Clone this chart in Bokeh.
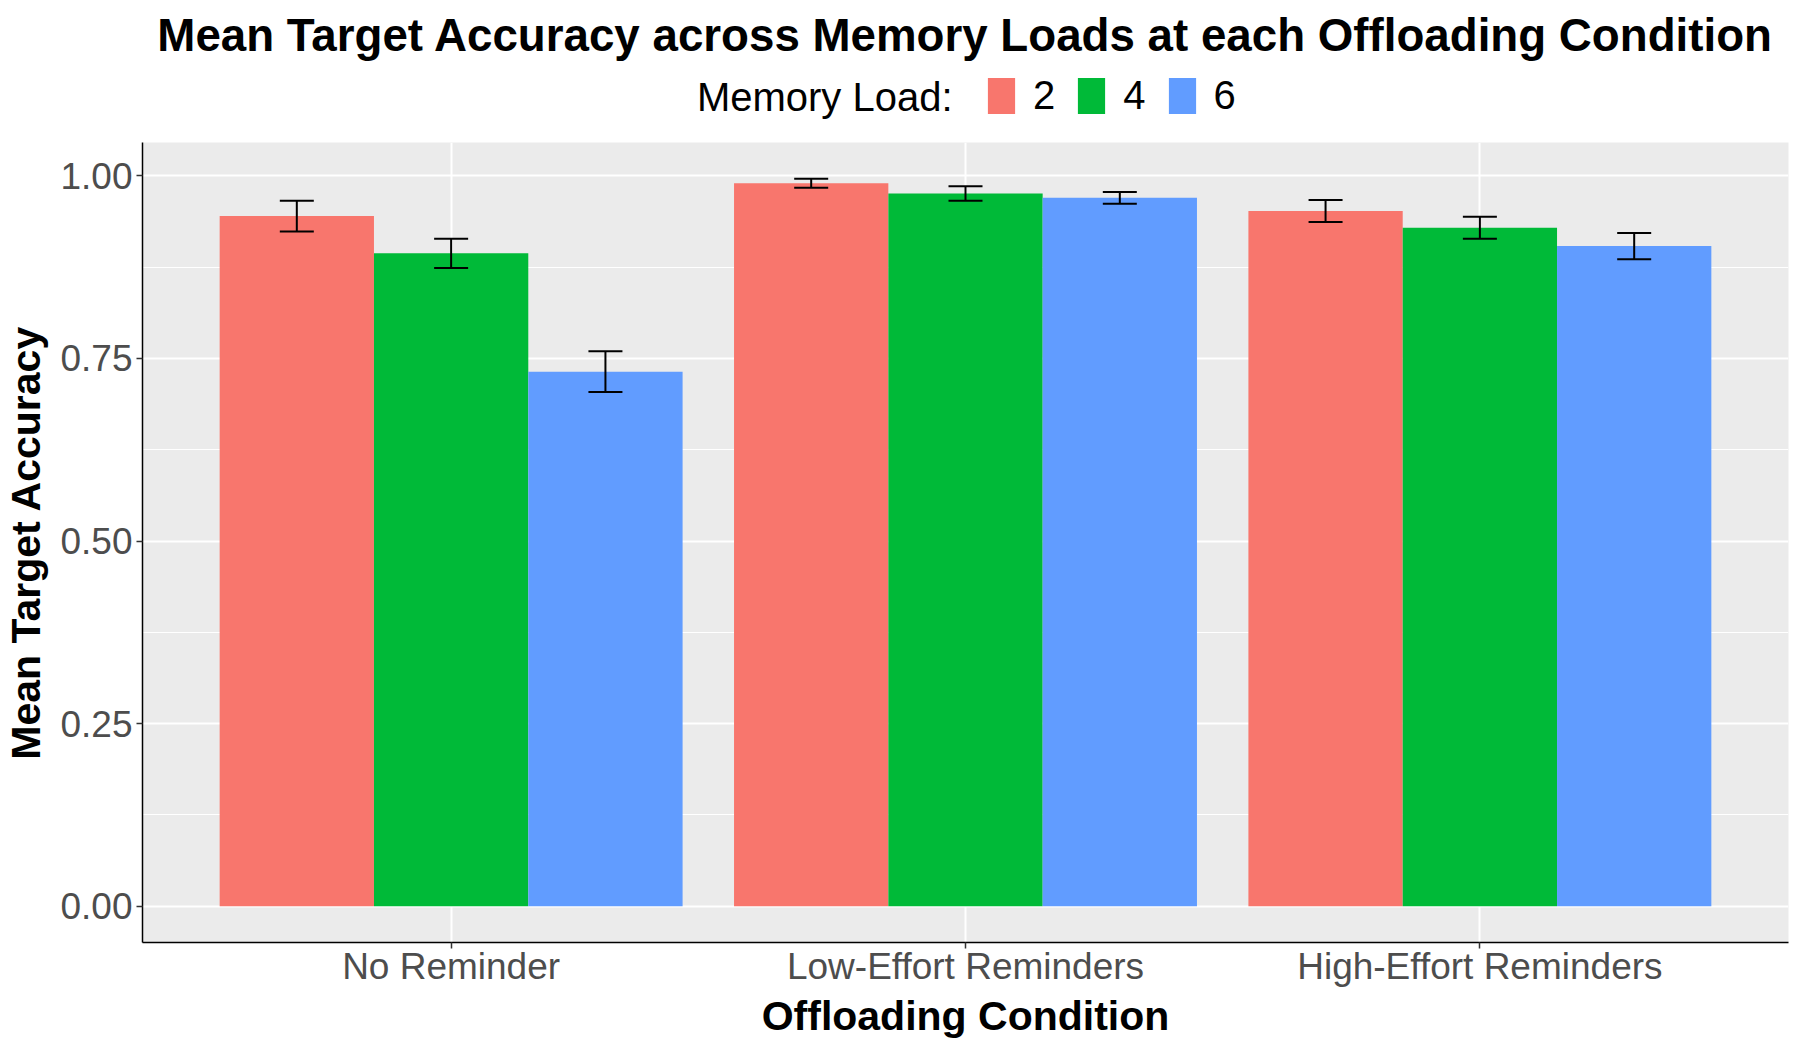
from bokeh.plotting import figure
from bokeh.layouts import column
from bokeh.models import (ColumnDataSource, FactorRange, Range1d, FixedTicker,
                          Whisker, TeeHead, Legend, LegendItem, Label)
from bokeh.transform import dodge
from bokeh.embed import file_html
from bokeh.resources import INLINE

conditions = ["No Reminder", "Low-Effort Reminders", "High-Effort Reminders"]
loads = ["2", "4", "6"]
colors = ["#F8766D", "#00BA38", "#619CFF"]
mean_load2 = [0.945, 0.990, 0.952]
mean_load4 = [0.894, 0.976, 0.929]
mean_load6 = [0.732, 0.970, 0.904]
se_load2 = [0.021, 0.006, 0.015]
se_load4 = [0.020, 0.010, 0.015]
se_load6 = [0.028, 0.008, 0.018]
y_ticks = [0.0, 0.25, 0.5, 0.75, 1.0]
y_minor = [0.125, 0.375, 0.625, 0.875]
y_tick_labels = ["0.00", "0.25", "0.50", "0.75", "1.00"]

TITLE = "Mean Target Accuracy across Memory Loads at each Offloading Condition"
LEGEND_TITLE = "Memory Load:"
FONT = "Liberation Sans"
means = [mean_load2, mean_load4, mean_load6]
ses = [se_load2, se_load4, se_load6]

W = 1789
HEAD_H = 142
MAIN_H = 899
FRAME_L, FRAME_R = 140, 1796   # frame edges shared by both rows (column aligns them)

# ---------------- header: title + legend ----------------
head = figure(width=W, height=HEAD_H, x_range=Range1d(FRAME_L, FRAME_R), y_range=Range1d(HEAD_H, 0),
              output_backend="svg", toolbar_location=None, title=None,
              x_axis_location=None, y_axis_location=None,
              min_border_left=0, min_border_right=0, min_border_top=0, min_border_bottom=0)
head.outline_line_color = None
head.grid.visible = False
head.background_fill_color = "white"
head.border_fill_color = "white"

head.add_layout(Label(x=968, y=35, text=TITLE, text_align="center", text_baseline="middle",
                      text_font=FONT, text_font_size="45.7px", text_font_style="bold",
                      text_color="black"))
head.add_layout(Label(x=955, y=96, text=LEGEND_TITLE, text_align="right", text_baseline="middle",
                      text_font=FONT, text_font_size="40px", text_color="black"))

nan = float("nan")
key_renderers = [head.vbar(x=[nan], top=[nan], width=1, fill_color=c, line_color=None) for c in colors]
legend = Legend(items=[LegendItem(label=l, renderers=[r]) for l, r in zip(loads, key_renderers)],
                orientation="horizontal", location=(842 - 0, 24),
                glyph_width=34, glyph_height=45, label_standoff=15, spacing=19,
                label_text_font=FONT, label_text_font_size="40px", label_text_color="black",
                background_fill_alpha=0, border_line_alpha=0, margin=0, padding=0)
head.add_layout(legend)

# ---------------- main plot ----------------
top = max(m + s for mm, ss in zip(means, ses) for m, s in zip(mm, ss))
span = top - 0.0
y_range = Range1d(0 - 0.05 * span, top + 0.05 * span)
x_range = FactorRange(factors=conditions, range_padding=0.1, range_padding_units="absolute")

p = figure(x_range=x_range, y_range=y_range, width=W, height=MAIN_H, title=None,
           output_backend="svg", toolbar_location=None,
           min_border_left=132, min_border_right=1, min_border_top=0, min_border_bottom=98)
p.background_fill_color = "#EBEBEB"
p.border_fill_color = "white"
p.outline_line_color = None

bar_w = 0.9 / len(loads)
offsets = [(i - (len(loads) - 1) / 2) * bar_w for i in range(len(loads))]

for load, col, mm, ss, off in zip(loads, colors, means, ses, offsets):
    src = ColumnDataSource(dict(cond=conditions, val=mm,
                                upper=[m + s for m, s in zip(mm, ss)],
                                lower=[m - s for m, s in zip(mm, ss)]))
    p.vbar(x=dodge("cond", off, range=p.x_range), top="val", bottom=0, width=bar_w,
           source=src, fill_color=col, line_color=None)
    p.add_layout(Whisker(source=src, base=dodge("cond", off, range=p.x_range),
                         upper="upper", lower="lower", dimension="height",
                         line_color="black", line_width=2, level="annotation",
                         upper_head=TeeHead(size=34, line_color="black", line_width=2),
                         lower_head=TeeHead(size=34, line_color="black", line_width=2)))

p.xgrid.grid_line_color = "white"
p.xgrid.grid_line_width = 2
p.ygrid.grid_line_color = "white"
p.ygrid.grid_line_width = 2
p.ygrid.minor_grid_line_color = "white"
p.ygrid.minor_grid_line_width = 1

p.yaxis.ticker = FixedTicker(ticks=y_ticks, minor_ticks=y_minor)
p.yaxis.major_label_overrides = {t: l for t, l in zip(y_ticks, y_tick_labels)}

for ax in (p.xaxis, p.yaxis):
    ax.axis_line_color = "black"
    ax.axis_line_width = 1.5
    ax.major_tick_line_color = "#333333"
    ax.major_tick_line_width = 1.5
    ax.major_tick_out = 6
    ax.major_tick_in = 0
    ax.minor_tick_line_color = None
    ax.major_label_text_font = FONT
    ax.major_label_text_font_size = "37px"
    ax.major_label_text_color = "#4D4D4D"
    ax.major_label_text_line_height = 1.0
    ax.axis_label_text_font = FONT
    ax.axis_label_text_font_size = "41px"
    ax.axis_label_text_font_style = "bold"
    ax.axis_label_text_color = "black"
    ax.axis_label_text_line_height = 1.0

p.xaxis.axis_label = "Offloading Condition"
p.yaxis.axis_label = "Mean Target Accuracy"
p.xaxis.major_label_standoff = -3
p.yaxis.major_label_standoff = 4
p.xaxis.axis_label_standoff = 3
p.yaxis.axis_label_standoff = 8

layout = column(head, p, spacing=0)
open("out.html", "w").write(file_html(layout, INLINE))
